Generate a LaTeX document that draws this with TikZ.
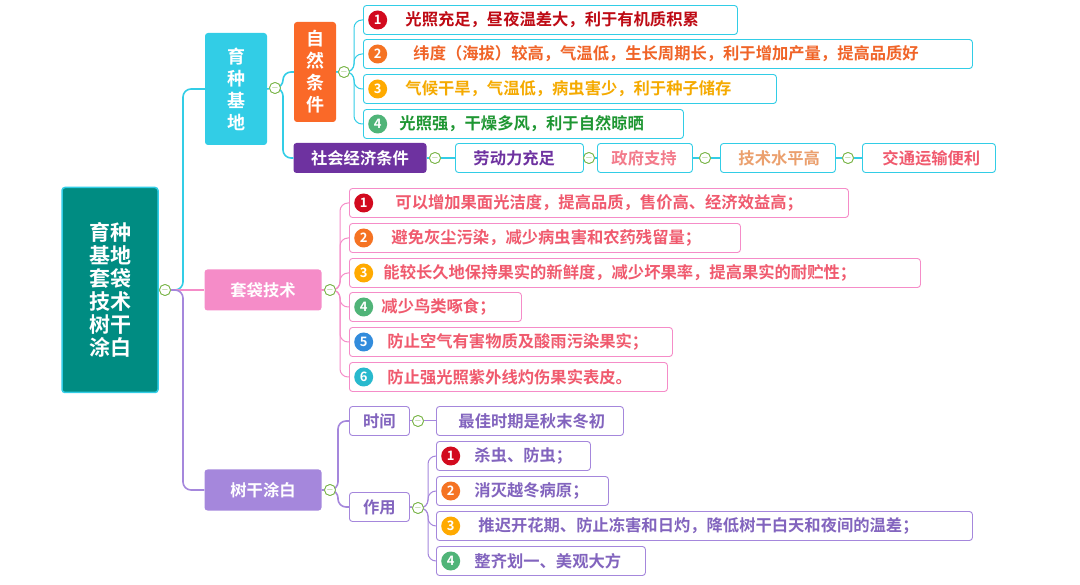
\documentclass[tikz,border=0pt]{standalone}
\usepackage{fontspec}
\setmainfont{Noto Sans CJK SC}[BoldFont={* Bold}]
\usetikzlibrary{positioning}
\definecolor{rootC}{RGB}{0,140,130}
\definecolor{cyanC}{RGB}{50,205,230}
\definecolor{orgC}{RGB}{250,105,40}
\definecolor{socC}{RGB}{110,50,160}
\definecolor{pinkC}{RGB}{245,140,200}
\definecolor{purC}{RGB}{165,135,220}
\definecolor{redT}{RGB}{190,10,20}
\definecolor{orgT}{RGB}{240,100,40}
\definecolor{yelT}{RGB}{245,170,0}
\definecolor{grnT}{RGB}{30,150,50}
\definecolor{pinkT}{RGB}{240,90,110}
\definecolor{purT}{RGB}{130,100,190}
\definecolor{tanT}{RGB}{235,160,110}
\definecolor{bRed}{RGB}{210,10,30}
\definecolor{bOrg}{RGB}{245,115,35}
\definecolor{bYel}{RGB}{255,170,0}
\definecolor{bGrn}{RGB}{80,180,120}
\definecolor{bBlu}{RGB}{50,140,220}
\definecolor{bTea}{RGB}{40,185,205}
\definecolor{minC}{RGB}{120,180,70}
\newcommand\leaf[7]{\node[leafbox,draw=#5,text=#6,text width=#4pt-12pt] (#1) at (#2,#3) {#7};}
\newcommand\badge[4]{\node[badge,fill=#3,right=5pt of #2.west] (#1) {#4};}
\begin{document}
\begin{tikzpicture}[x=1pt,y=-1pt,font=\bfseries\fontsize{16.3}{19}\selectfont,
  topic/.style={rounded corners=3,text=white,align=center,inner sep=2pt},
  leafbox/.style={rounded corners=3,line width=0.9pt,anchor=west,minimum height=29pt,align=left,inner xsep=6pt,fill=white},
  badge/.style={circle,inner sep=0pt,minimum size=19pt,text=white,font=\bfseries\fontsize{13}{13}\selectfont},
  fold/.style={circle,draw=minC,fill=white,line width=0.8pt,inner sep=0pt,minimum size=11pt,font=\fontsize{9}{9}\selectfont,text=minC},
  link/.style={line width=1.6pt,rounded corners=8}]
\useasboundingbox (0,0) rectangle (1080,585);
% root
\node[topic,draw=cyanC,line width=1.5pt,fill=rootC,minimum width=96pt,minimum height=205pt,font=\bfseries\fontsize{21}{23}\selectfont] (root) at (110,290) {育种\\基地\\套袋\\技术\\树干\\涂白};
\node[fold] (f0) at (165,290) {$-$};
% first level
\node[topic,fill=cyanC,minimum width=62pt,minimum height=112pt,font=\bfseries\fontsize{18}{22}\selectfont] (base) at (236,89) {育\\种\\基\\地};
\node[topic,fill=pinkC,minimum width=117pt,minimum height=41pt] (bag) at (263,290) {套袋技术};
\node[topic,fill=purC,minimum width=117pt,minimum height=41pt] (trunk) at (263,490) {树干涂白};
\draw[link,cyanC] (root.east) -- (f0) -- ++(18,0) |- (base.west);
\draw[link,pinkC] (f0) -- (bag.west);
\draw[link,purC] (f0) -- ++(18,0) |- (trunk.west);
\node[fold] (f0) at (165,290) {$-$};
% breeding base
\node[fold] (f1) at (275,88) {$-$};
\node[topic,fill=orgC,minimum width=42pt,minimum height=100pt,font=\bfseries\fontsize{18}{22}\selectfont] (nat) at (315,72) {自\\然\\条\\件};
\node[topic,fill=socC,minimum width=133pt,minimum height=30pt] (soc) at (360,158) {社会经济条件};
\draw[link,cyanC] (base.east) -- (f1) -- ++(8,0) |- (nat.west);
\draw[link,cyanC] (f1) -- ++(8,0) |- (soc.west);
\node[fold] (f1) at (275,88) {$-$};
\node[fold] (f2) at (344,72) {$-$};
\leaf{n1}{363}{20}{374}{cyanC}{redT}{\hspace*{36pt}光照充足，昼夜温差大，利于有机质积累}
\leaf{n2}{363}{54}{609}{cyanC}{orgT}{\hspace*{44pt}纬度（海拔）较高，气温低，生长周期长，利于增加产量，提高品质好}
\leaf{n3}{363}{89}{413}{cyanC}{yelT}{\hspace*{36pt}气候干旱，气温低，病虫害少，利于种子储存}
\leaf{n4}{363}{124}{320}{cyanC}{grnT}{\hspace*{30pt}光照强，干燥多风，利于自然晾晒}
\foreach \n in {n1,n2,n3,n4}
  \draw[link,cyanC,line width=1pt] (nat.east) -- (f2) -- ++(10,0) |- (\n.west);
\node[fold] (f2) at (344,72) {$-$};
\badge{b1}{n1}{bRed}{1}
\badge{b2}{n2}{bOrg}{2}
\badge{b3}{n3}{bYel}{3}
\badge{b4}{n4}{bGrn}{4}
% social chain
\node[fold] (g1) at (435,158) {$-$};
\leaf{s1}{455}{158}{128}{cyanC}{socC}{\hspace*{12pt}劳动力充足}
\node[fold] (g2) at (589,158) {$-$};
\leaf{s2}{597}{158}{95}{cyanC}{pinkT!80}{\hspace*{8pt}政府支持}
\node[fold] (g3) at (705,158) {$-$};
\leaf{s3}{720}{158}{115}{cyanC}{tanT}{\hspace*{12pt}技术水平高}
\node[fold] (g4) at (848,158) {$-$};
\leaf{s4}{862}{158}{133}{cyanC}{pinkT}{\hspace*{14pt}交通运输便利}
\draw[link,cyanC] (soc.east) -- (g1) -- (s1.west);
\draw[link,cyanC] (s1.east) -- (g2) -- (s2.west);
\draw[link,cyanC] (s2.east) -- (g3) -- (s3.west);
\draw[link,cyanC] (s3.east) -- (g4) -- (s4.west);
\foreach \g in {g1,g2,g3,g4} \node[fold] at (\g) {$-$};
% bagging
\node[fold] (f3) at (330,290) {$-$};
\leaf{m1}{349}{203}{499}{pinkC}{pinkT}{\hspace*{40pt}可以增加果面光洁度，提高品质，售价高、经济效益高；}
\leaf{m2}{349}{238}{391}{pinkC}{pinkT}{\hspace*{36pt}避免灰尘污染，减少病虫害和农药残留量；}
\leaf{m3}{349}{273}{571}{pinkC}{pinkT}{\hspace*{28pt}能较长久地保持果实的新鲜度，减少坏果率，提高果实的耐贮性；}
\leaf{m4}{349}{307}{172}{pinkC}{pinkT}{\hspace*{26pt}减少鸟类啄食；}
\leaf{m5}{349}{342}{323}{pinkC}{pinkT}{\hspace*{32pt}防止空气有害物质及酸雨污染果实；}
\leaf{m6}{349}{377}{318}{pinkC}{pinkT}{\hspace*{32pt}防止强光照紫外线灼伤果实表皮。}
\foreach \n in {m1,m2,m3,m4,m5,m6}
  \draw[link,pinkC,line width=1pt] (bag.east) -- (f3) -- ++(10,0) |- (\n.west);
\node[fold] (f3) at (330,290) {$-$};
\badge{c1}{m1}{bRed}{1}
\badge{c2}{m2}{bOrg}{2}
\badge{c3}{m3}{bYel}{3}
\badge{c4}{m4}{bGrn}{4}
\badge{c5}{m5}{bBlu}{5}
\badge{c6}{m6}{bTea}{6}
% trunk whitening
\node[fold] (f4) at (330,490) {$-$};
\node[leafbox,draw=purC,text=purT,minimum width=60pt,align=center] (time) at (349,421) {时间};
\node[leafbox,draw=purC,text=purT,minimum width=60pt,align=center] (use) at (349,507) {作用};
\draw[link,purC] (trunk.east) -- (f4) -- ++(8,0) |- (time.west);
\draw[link,purC] (f4) -- ++(8,0) |- (use.west);
\node[fold] (f4) at (330,490) {$-$};
\node[fold] (h1) at (418,421) {$-$};
\leaf{t0}{436}{421}{187}{purC}{purT}{\hspace*{16pt}最佳时期是秋末冬初}
\draw[link,purC,line width=1pt] (time.east) -- (h1) -- (t0.west);
\node[fold] (h1) at (418,421) {$-$};
\node[fold] (h2) at (418,508) {$-$};
\leaf{u1}{436}{456}{154}{purC}{purT}{\hspace*{32pt}杀虫、防虫；}
\leaf{u2}{436}{491}{172}{purC}{purT}{\hspace*{32pt}消灭越冬病原；}
\leaf{u3}{436}{526}{536}{purC}{purT}{\hspace*{36pt}推迟开花期、防止冻害和日灼，降低树干白天和夜间的温差；}
\leaf{u4}{436}{561}{209}{purC}{purT}{\hspace*{32pt}整齐划一、美观大方}
\foreach \n in {u1,u2,u3,u4}
  \draw[link,purC,line width=1pt] (use.east) -- (h2) -- ++(10,0) |- (\n.west);
\node[fold] (h2) at (418,508) {$-$};
\badge{d1}{u1}{bRed}{1}
\badge{d2}{u2}{bOrg}{2}
\badge{d3}{u3}{bYel}{3}
\badge{d4}{u4}{bGrn}{4}
\end{tikzpicture}
\end{document}
